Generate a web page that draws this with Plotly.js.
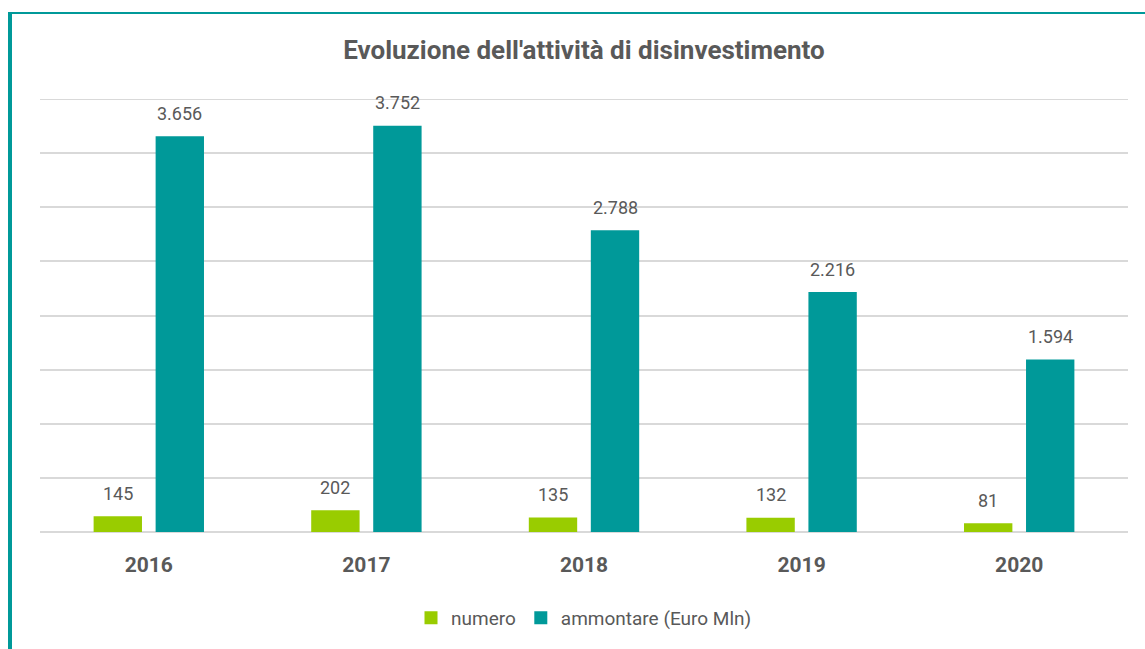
<!DOCTYPE html>
<html>
<head>
<meta charset="utf-8">
<script src="https://cdn.plot.ly/plotly-3.0.1.min.js"></script>
<style>
  body { margin: 0; background: #fff; }
  #chart { width: 1145px; height: 649px; }
  #frame {
    position: absolute; left: 8px; top: 12px; right: 0; bottom: 0;
    border-left: 4px solid #009999; border-top: 2px solid #009999;
    pointer-events: none;
  }
</style>
</head>
<body>
<div id="chart"></div>
<div id="frame"></div>
<script>
// anni
const years = ['2016', '2017', '2018', '2019', '2020'];
// numero di disinvestimenti
const numero = [145, 202, 135, 132, 81];
// ammontare disinvestito (Euro Mln)
const ammontare = [3656, 3752, 2788, 2216, 1594];
const yMax = 4000;

const grey = '#595959';
const font = 'Roboto, sans-serif';
const green = '#99cc00';
const teal = '#009999';

const fmt = v => v.toLocaleString('it-IT');

const traces = [
  { x: years, y: numero, type: 'bar', name: 'numero', marker: { color: green },
    showlegend: false, hoverinfo: 'skip' },
  { x: years, y: ammontare, type: 'bar', name: 'ammontare (Euro Mln)', marker: { color: teal },
    showlegend: false, hoverinfo: 'skip' },
  // solo per la legenda (quadratini)
  { x: [null], y: [null], type: 'scatter', mode: 'markers', name: 'numero',
    marker: { color: green, symbol: 'square', size: 13 } },
  { x: [null], y: [null], type: 'scatter', mode: 'markers', name: 'ammontare (Euro Mln)',
    marker: { color: teal, symbol: 'square', size: 13 } }
];

// etichette sopra le barre
const annotations = [];
years.forEach((yr, i) => {
  [[numero[i], -31], [ammontare[i], 31]].forEach(([v, dx]) => {
    annotations.push({
      x: yr, y: v, text: fmt(v), showarrow: false,
      xshift: dx, yshift: 23, yanchor: 'middle',
      font: { size: 18, color: grey, family: font }
    });
  });
});

const layout = {
  width: 1145, height: 649,
  margin: { l: 40, r: 17, t: 99, b: 117 },
  font: { family: font, color: grey },
  title: {
    text: "<b>Evoluzione dell'attività di disinvestimento</b>",
    font: { size: 26, color: grey, family: font },
    x: 0.5, xref: 'paper', y: 0.923, yref: 'container', yanchor: 'middle'
  },
  barmode: 'group', bargap: 0.43, bargroupgap: 0.22,
  xaxis: {
    tickfont: { size: 21, color: grey, family: font },
    showline: false, ticks: '', ticklabelstandoff: 18,
    tickprefix: '<b>', ticksuffix: '</b>'
  },
  yaxis: {
    range: [0, yMax], dtick: 500, showticklabels: false,
    gridcolor: '#d9d9d9', gridwidth: 2, zeroline: true,
    zerolinecolor: '#d9d9d9', zerolinewidth: 2
  },
  // la griglia in cima non viene disegnata sul bordo: la aggiungo
  shapes: [{
    type: 'line', xref: 'paper', x0: 0, x1: 1, yref: 'y', y0: yMax, y1: yMax,
    line: { color: '#d9d9d9', width: 2 }, layer: 'below'
  }],
  legend: {
    orientation: 'h', x: 0.5, xref: 'paper', xanchor: 'center',
    y: 0.048, yref: 'container', yanchor: 'middle',
    font: { size: 19, color: grey, family: font },
    itemwidth: 30, tracegroupgap: 0
  },
  annotations: annotations,
  plot_bgcolor: '#fff', paper_bgcolor: '#fff'
};

Plotly.newPlot('chart', traces, layout, { displayModeBar: false });
</script>
</body>
</html>
